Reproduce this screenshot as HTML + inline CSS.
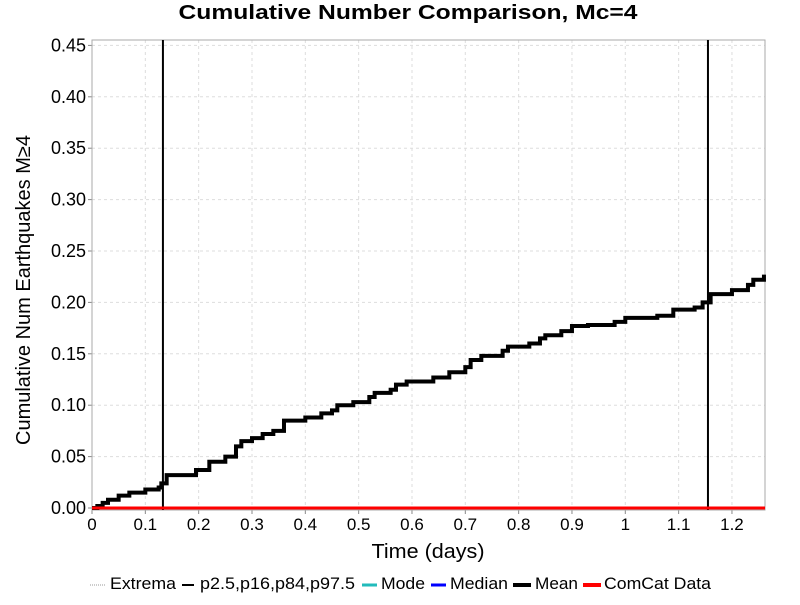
<!DOCTYPE html>
<html><head><meta charset="utf-8"><style>
body{margin:0;background:#fff;}
svg{font-family:"Liberation Sans",sans-serif;}
</style></head><body>
<svg id="chart" width="800" height="600">
<text x="408" y="19" text-anchor="middle" font-size="20" font-weight="bold" textLength="459" lengthAdjust="spacingAndGlyphs">Cumulative Number Comparison, Mc=4</text>
<g id="grid"></g>
<g id="axes"></g>
<g id="series"></g>
<text x="428" y="558" text-anchor="middle" font-size="20" textLength="113" lengthAdjust="spacingAndGlyphs">Time (days)</text>
<text transform="translate(30,290) rotate(-90)" text-anchor="middle" font-size="20" textLength="310" lengthAdjust="spacingAndGlyphs">Cumulative Num Earthquakes M≥4</text>
<g id="legend" font-size="17"></g>
</svg>
<script>
const meanTimes=[0,0.01,0.02,0.03,0.05,0.07,0.1,0.125,0.13,0.14,0.195,0.22,0.25,0.27,0.28,0.3,0.32,0.34,0.36,0.4,0.43,0.45,0.46,0.49,0.52,0.53,0.56,0.57,0.59,0.64,0.67,0.7,0.71,0.73,0.77,0.78,0.82,0.84,0.85,0.88,0.9,0.93,0.98,1.0,1.06,1.09,1.13,1.145,1.16,1.2,1.23,1.24,1.26];
const meanValues=[0,0.002,0.005,0.008,0.012,0.015,0.018,0.02,0.024,0.032,0.037,0.045,0.05,0.06,0.065,0.068,0.072,0.075,0.085,0.088,0.092,0.095,0.1,0.103,0.108,0.112,0.115,0.12,0.123,0.127,0.132,0.137,0.144,0.148,0.153,0.157,0.16,0.165,0.168,0.172,0.177,0.178,0.181,0.185,0.187,0.193,0.195,0.2,0.208,0.212,0.217,0.222,0.227];
const percentileTimes=[0.133,1.155];
const comcatTimes=[0,1.262];
const comcatValues=[0,0];
const xTicks=[0,0.1,0.2,0.3,0.4,0.5,0.6,0.7,0.8,0.9,1,1.1,1.2];
const xTickLabels=["0","0.1","0.2","0.3","0.4","0.5","0.6","0.7","0.8","0.9","1","1.1","1.2"];
const yTicks=[0,0.05,0.1,0.15,0.2,0.25,0.3,0.35,0.4,0.45];
const yTickLabels=["0.00","0.05","0.10","0.15","0.20","0.25","0.30","0.35","0.40","0.45"];
const L=92,R=765,T=40,B=510;
const X=t=>92+t*533.3;
const Y=v=>508-v*1028;
const NS="http://www.w3.org/2000/svg";
function mk(tag,attrs,parent){const e=document.createElementNS(NS,tag);for(const k in attrs)e.setAttribute(k,attrs[k]);parent.appendChild(e);return e;}
const grid=document.getElementById('grid'),axes=document.getElementById('axes'),ser=document.getElementById('series'),leg=document.getElementById('legend');
xTicks.forEach((t,i)=>{
 const g=mk('line',{x1:X(t),x2:X(t),y1:T,y2:B,stroke:'#ddd','stroke-dasharray':'3,3'},grid);
 
 
 const tk=mk('line',{x1:X(t),x2:X(t),y1:B,y2:B+4,stroke:'#888'},axes);
 
 
 const tx=mk('text',{x:X(t),y:530,'text-anchor':'middle','font-size':'17'},axes);tx.textContent=xTickLabels[i];
 
 
});
yTicks.forEach((v,i)=>{
 const g=mk('line',{x1:L,x2:R,y1:Y(v),y2:Y(v),stroke:'#ddd','stroke-dasharray':'3,3'},grid);
 
 
 const tk=mk('line',{x1:L-4,x2:L,y1:Y(v),y2:Y(v),stroke:'#888'},axes);
 
 
 const tx=mk('text',{x:L-6,y:Y(v)+6,'text-anchor':'end','font-size':'18'},axes);tx.textContent=yTickLabels[i];
 
 
});
const fr=mk('rect',{x:L,y:T,width:R-L,height:B-T,fill:'none',stroke:'#aaa'},axes);


percentileTimes.forEach(t=>{
 const l=mk('line',{x1:X(t),x2:X(t),y1:T,y2:B,stroke:'#000','stroke-width':2},ser);
 
 
});
let d='';meanTimes.forEach((t,i)=>{if(i==0)d+='M'+X(t)+','+Y(meanValues[i]);else d+='H'+X(t)+'V'+Y(meanValues[i]);});
const mp=mk('path',{d:d,fill:'none',stroke:'#000','stroke-width':4},ser);


const cc=mk('polyline',{points:comcatTimes.map((t,i)=>X(t)+','+Y(comcatValues[i])).join(' '),fill:'none',stroke:'#f00','stroke-width':3},ser);


const items=[["Extrema",'#999',1,'1,1',90,105,110,66],["p2.5,p16,p84,p97.5",'#000',2,'',182,194,200,155],["Mode",'#2bb',3,'',362,377,381,44],["Median",'#00f',3,'',431,446,450,58],["Mean",'#000',4,'',513,531,535,43],["ComCat Data",'#f00',4,'',583,601,604,107]];
items.forEach(it=>{
 const g=mk('g',{},leg);
 
 
 mk('line',{x1:it[4],x2:it[5],y1:585,y2:585,stroke:it[1],'stroke-width':it[2],'stroke-dasharray':it[3]},g);
 const t=mk('text',{x:it[6],y:589,textLength:it[7],lengthAdjust:'spacingAndGlyphs'},g);t.textContent=it[0];
});
</script>
</body></html>
